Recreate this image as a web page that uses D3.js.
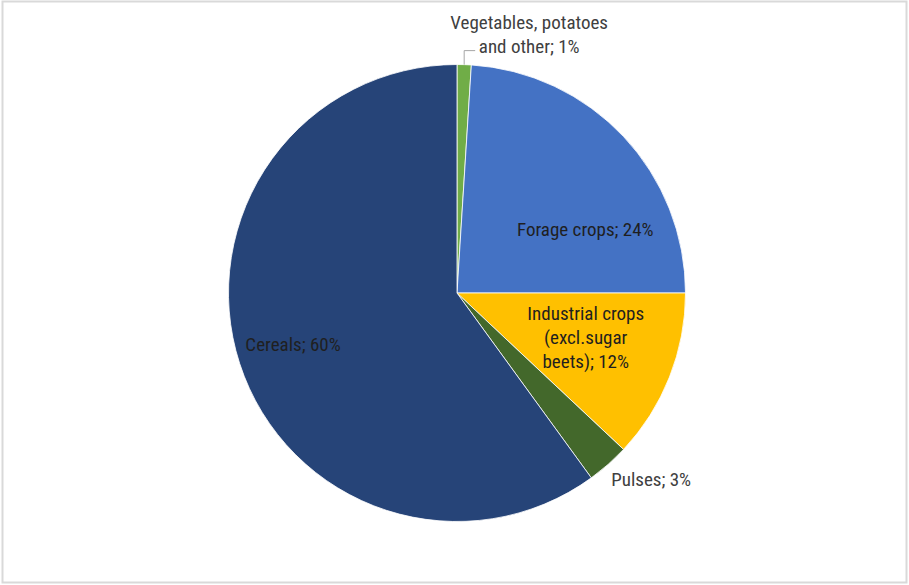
<!DOCTYPE html>
<html>
<head>
<meta charset="utf-8">
<script src="https://cdn.jsdelivr.net/npm/d3@7"></script>
<style>
  html, body { margin: 0; padding: 0; background: #fff; }
  svg { display: block; }
  text { font-family: "Liberation Sans Narrow", "Arial Narrow", "Roboto Condensed", sans-serif; font-size: 19px; }
</style>
</head>
<body>
<svg id="chart" width="909" height="585"></svg>
<script>
// ---- Data ----
const categories = ["Vegetables, potatoes and other", "Forage crops", "Industrial crops (excl.sugar beets)", "Pulses", "Cereals"];
const values = [1, 24, 12, 3, 60];
const colors = ["#70AD47", "#4472C4", "#FFC000", "#43682B", "#264478"];
const labelLines = [
  ["Vegetables, potatoes", "and other; 1%"],
  ["Forage crops; 24%"],
  ["Industrial crops", "(excl.sugar", "beets); 12%"],
  ["Pulses; 3%"],
  ["Cereals; 60%"]
];

// ---- Layout ----
const W = 909, H = 585;
const cx = 457, cy = 293, R = 228.5;
// label placement: [radius factor, dx, dy] relative to slice bisector
const labelLayout = [
  [1.0, 65, -30],
  [0.62, 25, 33],
  [0.62, -3, -8],
  [1.08, 31, 1],
  [0.75, -1, -2]
];
const labelColor = ["#404040", "#1f1f1f", "#1f1f1f", "#404040", "#1f1f1f"];

const svg = d3.select("#chart");
svg.append("rect")
  .attr("x", 2.5).attr("y", 1.5)
  .attr("width", W - 5).attr("height", H - 4)
  .attr("fill", "#fff").attr("stroke", "#d9d9d9").attr("stroke-width", 2);

const data = categories.map((c, i) => ({ name: c, value: values[i], i }));
const pie = d3.pie().sort(null).value(d => d.value);
const arcs = pie(data);
const arc = d3.arc().innerRadius(0).outerRadius(R);

const g = svg.append("g").attr("transform", `translate(${cx},${cy})`);
g.selectAll("path.slice")
  .data(arcs)
  .enter().append("path")
  .attr("class", "slice")
  .attr("d", arc)
  .attr("fill", d => colors[d.data.i])
  .attr("stroke", "#fff")
  .attr("stroke-width", 0.8);

// label positions
function labelPos(d) {
  const [f, dx, dy] = labelLayout[d.data.i];
  const a = (d.startAngle + d.endAngle) / 2;
  const r = R * f;
  return [r * Math.sin(a) + dx, -r * Math.cos(a) + dy];
}

const lineH = 24;
arcs.forEach(d => {
  const [x, y] = labelPos(d);
  const lines = labelLines[d.data.i];
  const t = g.append("text")
    .attr("text-anchor", "middle")
    .attr("fill", labelColor[d.data.i]);
  lines.forEach((ln, k) => {
    t.append("tspan")
      .attr("x", x)
      .attr("y", y + (k - (lines.length - 1) / 2) * lineH)
      .attr("dy", "0.35em")
      .text(ln);
  });
});

// leader line for the small vegetables slice
const v = arcs[0];
const va = (v.startAngle + v.endAngle) / 2;
const p0 = [R * Math.sin(va), -R * Math.cos(va)];
const vp = labelPos(v);
g.append("polyline")
  .attr("points", [[p0[0], p0[1]], [p0[0], vp[1] + 16], [vp[0] - 54, vp[1] + 16]].map(p => p.join(",")).join(" "))
  .attr("fill", "none")
  .attr("stroke", "#a6a6a6")
  .attr("stroke-width", 1);
</script>
</body>
</html>
